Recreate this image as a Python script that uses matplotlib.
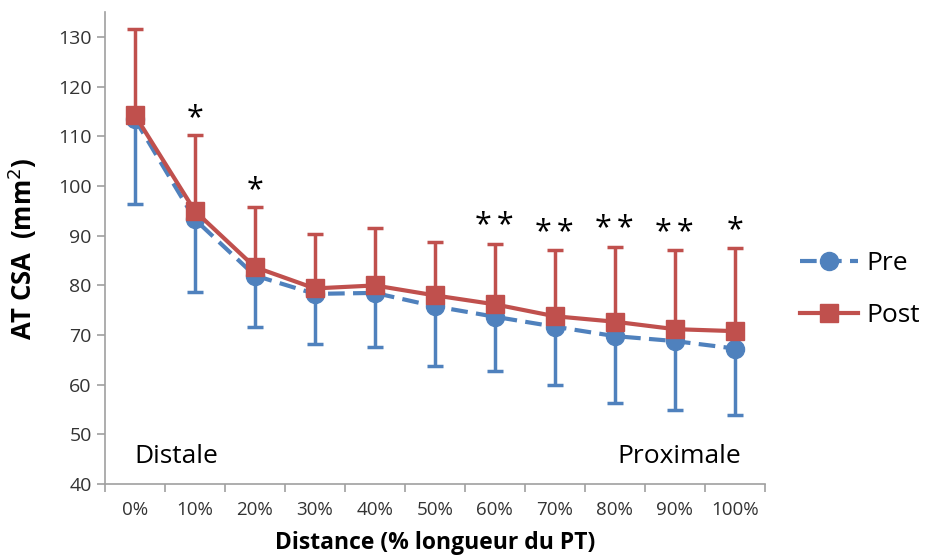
import numpy as np
import matplotlib.pyplot as plt
from matplotlib.ticker import FixedLocator, NullFormatter

plt.rcParams['font.family'] = ['Open Sans', 'DejaVu Sans']

labels = ['0%', '10%', '20%', '30%', '40%', '50%', '60%', '70%', '80%', '90%', '100%']
pre = [113.5, 93.3, 82.0, 78.3, 78.5, 75.8, 73.7, 71.7, 69.8, 68.8, 67.3]
pre_sd = [17.1, 14.6, 10.3, 10.1, 10.9, 12.0, 11.0, 11.8, 13.4, 13.8, 13.3]
post = [114.3, 95.0, 83.7, 79.4, 80.0, 78.0, 76.2, 73.8, 72.7, 71.2, 70.8]
post_sd = [17.4, 15.2, 12.0, 11.0, 11.6, 10.8, 12.2, 13.3, 15.1, 15.9, 16.8]
stars = ['', '*', '*', '', '', '', '**', '**', '**', '**', '*']

blue = '#4F81BD'
red = '#C0504D'

fig = plt.figure(figsize=(9.28, 5.59), dpi=100)
ax = fig.add_axes([0.113, 0.134, 0.711, 0.844])
x = np.arange(len(labels))

ax.errorbar(x, pre, yerr=[pre_sd, np.zeros(len(x))], fmt='none', ecolor=blue,
            elinewidth=2.5, capsize=6, capthick=2.5, zorder=2)
ax.errorbar(x, post, yerr=[np.zeros(len(x)), post_sd], fmt='none', ecolor=red,
            elinewidth=2.5, capsize=6, capthick=2.5, zorder=2)
ax.plot(x, pre, color=blue, ls=(0, (4, 2)), lw=3, marker='o', ms=13,
        label='Pre', zorder=3)
ax.plot(x, post, color=red, ls='-', lw=3, marker='s', ms=13,
        label='Post', zorder=4)

for xi, top, s in zip(x, np.add(post, post_sd), stars):
    if s:
        # spread the double stars a little, like the original
        s = '\u2009'.join(s)
        ax.text(xi, top + 0.5, s, ha='center', va='bottom', fontsize=22,
                family=['Open Sans', 'DejaVu Sans'])

ax.text(0, 45.5, 'Distale', fontsize=19, ha='left', va='center')
ax.text(10.1, 45.5, 'Proximale', fontsize=19, ha='right', va='center')

ax.set_xlim(-0.5, 10.5)
ax.set_ylim(40, 135)
ax.set_yticks(np.arange(40, 131, 10))
ax.set_xticks(x)
ax.set_xticklabels(labels, fontsize=13.5, color='#333333')
ax.tick_params(axis='x', which='major', length=0, pad=12)
ax.xaxis.set_minor_locator(FixedLocator(np.arange(-0.5, 10.6, 1)))
ax.xaxis.set_minor_formatter(NullFormatter())
ax.tick_params(axis='x', which='minor', length=6, color='#A0A0A0', width=1.2)
ax.tick_params(axis='y', labelsize=14, length=6, color='#A0A0A0', width=1.2,
               labelcolor='#333333')
for side in ['top', 'right']:
    ax.spines[side].set_visible(False)
for side in ['left', 'bottom']:
    ax.spines[side].set_color('#A0A0A0')
    ax.spines[side].set_linewidth(1.2)

ax.set_ylabel('AT CSA  (mm$^{2}$)', fontsize=18.5, fontweight='bold', labelpad=14)
ax.set_xlabel('Distance (% longueur du PT)', fontsize=16.5, fontweight='bold', labelpad=9)

fig.legend(loc='center left', bbox_to_anchor=(0.862, 0.482), frameon=False,
           fontsize=19, handlelength=2.2, labelspacing=1.0, handletextpad=0.3,
           borderpad=0, borderaxespad=0)

fig.savefig('out.png', dpi=100)
